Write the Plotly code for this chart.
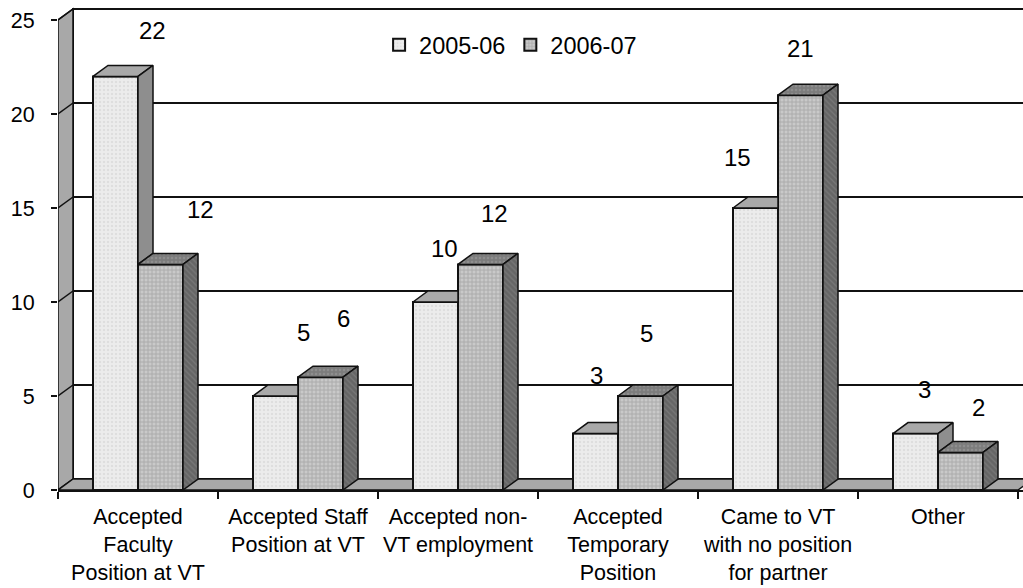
import plotly.graph_objects as go

# ---- data -------------------------------------------------------------
categories = [
    "Accepted<br>Faculty<br>Position at VT",
    "Accepted Staff<br>Position at VT",
    "Accepted non-<br>VT employment",
    "Accepted<br>Temporary<br>Position",
    "Came to VT<br>with no position<br>for partner",
    "Other",
]
series_names = ["2005-06", "2006-07"]
values_0506 = [22, 5, 10, 3, 15, 3]
values_0607 = [12, 6, 12, 5, 21, 2]
y_ticks = [0, 5, 10, 15, 20, 25]

# value-label nudges in pixels (right, up) from the top centre of each bar
label_dx_0506 = [37, 28, 9, 1, -18, 9]
label_dy_0506 = [46, 64, 54, 58, 51, 44]
label_dx_0607 = [40, 23, 14, 6, 0, 18]
label_dy_0607 = [55, 59, 51, 63, 47, 45]

# ---- layout geometry --------------------------------------------------
FIG_W, FIG_H = 1023, 588
M_L, M_R, M_T, M_B = 58, 0, 0, 98
PX_PER_CAT = 160.0          # pixels per category slot
PX_PER_UNIT = 18.8          # pixels per y unit
plot_w = FIG_W - M_L - M_R
plot_h = FIG_H - M_T - M_B
x_range = [-0.5, -0.5 + plot_w / PX_PER_CAT]
y_range = [0, plot_h / PX_PER_UNIT]

BAR_W = 0.28125                 # bar width in category units
DX = 15 / PX_PER_CAT            # 3-D depth, horizontal part
DY = 11 / PX_PER_UNIT           # 3-D depth, vertical part
Y_MAX = y_ticks[-1]
X0, X1 = -0.5, len(categories) - 0.5
EDGE = "#111111"
FONT = "Liberation Sans, Arial, sans-serif"

styles = {
    "2005-06": dict(
        front=dict(bgcolor="#ececec", fgcolor="#cfcfcf", shape=".", size=4, solidity=0.3),
        top=dict(color="#a9a9a9", pattern=None),
        side=dict(color="#8e8e8e", pattern=None),
    ),
    "2006-07": dict(
        front=dict(bgcolor="#c9c9c9", fgcolor="#8a8a8a", shape="+", size=4, solidity=0.4),
        top=dict(color="#7c7c7c", pattern=dict(shape=".", fgcolor="#a0a0a0", size=4, solidity=0.3)),
        side=dict(color="#666666", pattern=dict(shape="\\", fgcolor="#8a8a8a", size=4, solidity=0.3)),
    ),
}

fig = go.Figure()

# ---- back wall, left wall, floor and gridlines (behind the bars) -------
shapes = []
shapes.append(dict(type="rect", xref="x", yref="y", layer="below",
                   x0=X0 + DX, x1=X1 + 1, y0=DY, y1=Y_MAX + DY,
                   fillcolor="white", line=dict(color=EDGE, width=2)))
shapes.append(dict(type="path", xref="x", yref="y", layer="below",
                   path=f"M{X0},0 L{X0},{Y_MAX} L{X0 + DX},{Y_MAX + DY} L{X0 + DX},{DY} Z",
                   fillcolor="#a8a8a8", line=dict(color=EDGE, width=1.5)))
shapes.append(dict(type="path", xref="x", yref="y", layer="below",
                   path=f"M{X0},0 L{X1},0 L{X1 + DX},{DY} L{X0 + DX},{DY} Z",
                   fillcolor="#a8a8a8", line=dict(color=EDGE, width=1.5)))
for v in y_ticks[1:-1]:
    shapes.append(dict(type="line", xref="x", yref="y", layer="below",
                       x0=X0 + DX, x1=X1 + 1, y0=v + DY, y1=v + DY,
                       line=dict(color=EDGE, width=2)))
for v in y_ticks[1:]:
    shapes.append(dict(type="line", xref="x", yref="y", layer="below",
                       x0=X0, x1=X0 + DX, y0=v, y1=v + DY,
                       line=dict(color=EDGE, width=1.5)))

# ---- bar fronts --------------------------------------------------------
cat_idx = list(range(len(categories)))
series_values = [values_0506, values_0607]
offsets = [-BAR_W, 0.0]
for name, vals, off in zip(series_names, series_values, offsets):
    fig.add_trace(go.Bar(
        x=cat_idx, y=vals, name=name, width=BAR_W, offset=off,
        marker=dict(color=styles[name]["front"]["bgcolor"],
                    pattern=styles[name]["front"],
                    line=dict(color=EDGE, width=2)),
        hoverinfo="skip",
    ))


def face(xs, ys, style):
    kw = dict(x=xs + [xs[0]], y=ys + [ys[0]], mode="lines", fill="toself",
              fillcolor=style["color"], line=dict(color=EDGE, width=1.5),
              showlegend=False, hoverinfo="skip")
    if style["pattern"]:
        p = dict(style["pattern"])
        p["bgcolor"] = style["color"]
        kw["fillpattern"] = p
    fig.add_trace(go.Scatter(**kw))


# ---- bar tops and sides (only the visible parts) -----------------------
for i in cat_idx:
    hA, hB = values_0506[i], values_0607[i]
    # left bar (2005-06); its right neighbour is the 2006-07 bar
    xl, xr = i - BAR_W, i
    sa = styles["2005-06"]
    if hA >= hB:
        face([xl, xr, xr + DX, xl + DX], [hA, hA, hA + DY, hA + DY], sa["top"])
        if hA > hB:
            face([xr, xr, xr + DX, xr + DX], [hB, hA, hA + DY, hB + DY], sa["side"])
    else:
        face([xl, xr, xr, xl + DX], [hA, hA, hA + DY, hA + DY], sa["top"])
    # right bar (2006-07)
    xl, xr = i, i + BAR_W
    sb = styles["2006-07"]
    face([xl, xr, xr + DX, xl + DX], [hB, hB, hB + DY, hB + DY], sb["top"])
    face([xr, xr, xr + DX, xr + DX], [0, hB, hB + DY, DY], sb["side"])

# ---- value labels ------------------------------------------------------
annotations = []
for vals, off, ldx, ldy in [(values_0506, -BAR_W / 2, label_dx_0506, label_dy_0506),
                            (values_0607, BAR_W / 2, label_dx_0607, label_dy_0607)]:
    for i, v in enumerate(vals):
        annotations.append(dict(x=i + off, y=v, xref="x", yref="y", text=str(v),
                                showarrow=False, xshift=ldx[i], yshift=ldy[i],
                                font=dict(size=24, color="black", family=FONT)))

fig.update_layout(
    width=FIG_W, height=FIG_H,
    margin=dict(l=M_L, r=M_R, t=M_T, b=M_B, autoexpand=False),
    paper_bgcolor="white", plot_bgcolor="white",
    barmode="overlay",
    shapes=shapes, annotations=annotations,
    font=dict(family=FONT, color="black"),
    showlegend=True,
    legend=dict(orientation="h", x=0.469, xanchor="center", y=0.908, yanchor="middle",
                font=dict(size=23.5, family=FONT), bgcolor="rgba(0,0,0,0)",
                itemwidth=30, tracegroupgap=0),
    xaxis=dict(range=x_range, showgrid=False, zeroline=False, automargin=False,
               showline=True, linecolor=EDGE, linewidth=2,
               tickmode="array", tickvals=cat_idx, ticktext=categories,
               ticks="", ticklabelstandoff=6,
               tickfont=dict(size=21.5, family=FONT),
               minor=dict(tick0=-0.5, dtick=1, ticks="outside", ticklen=7,
                          tickwidth=1.5, tickcolor=EDGE, showgrid=False)),
    yaxis=dict(range=y_range, showgrid=False, zeroline=False, showline=False,
               automargin=False,
               tickmode="array", tickvals=y_ticks, ticks="outside", ticklen=6,
               tickwidth=1.5, tickcolor=EDGE, ticklabelstandoff=12,
               tickfont=dict(size=21.5, family=FONT)),
)

fig.write_html("out.html")
